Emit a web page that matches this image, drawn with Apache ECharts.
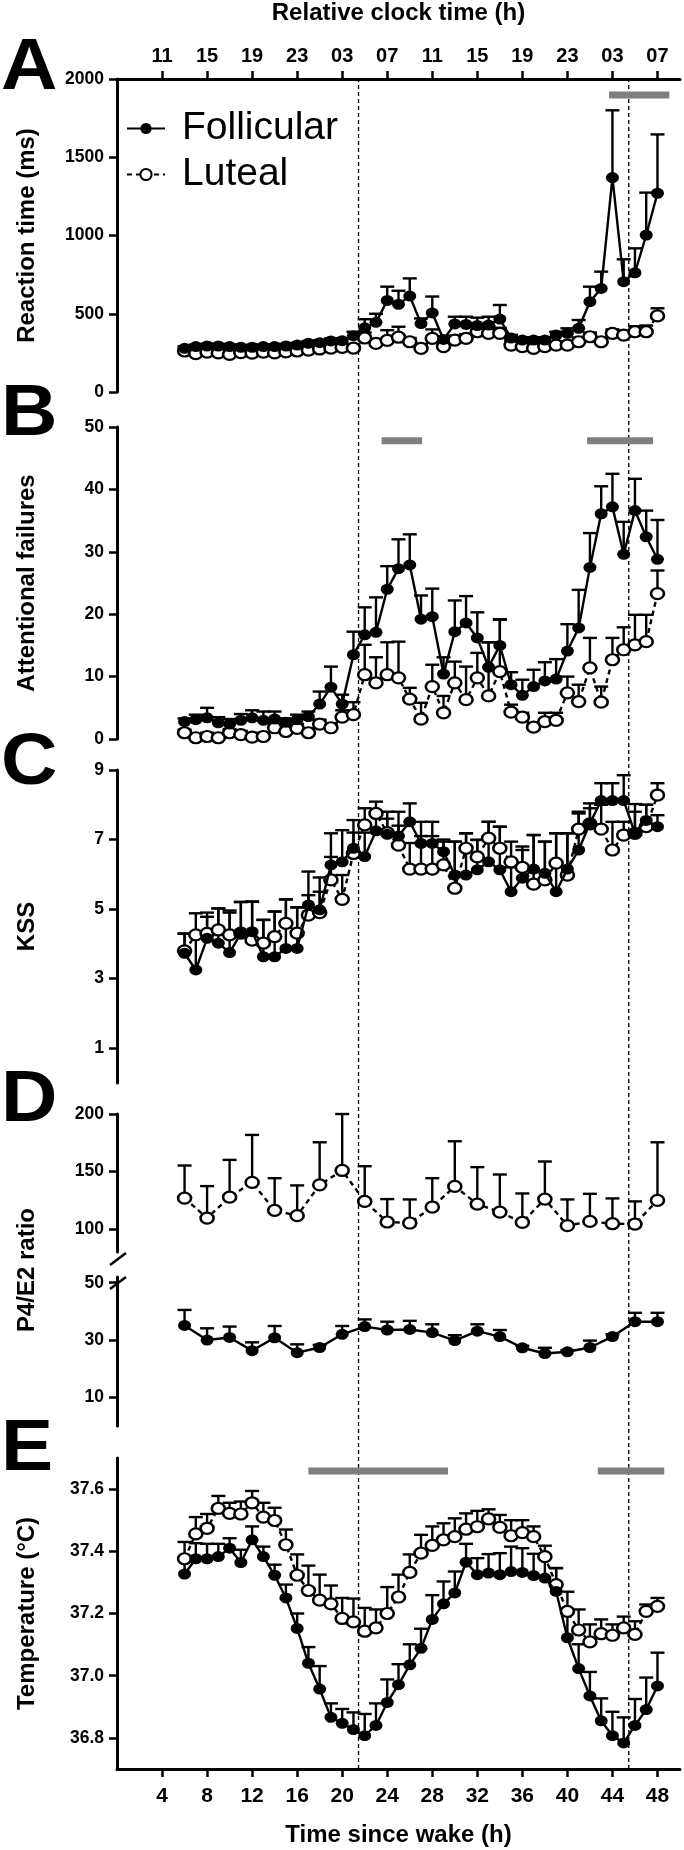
<!DOCTYPE html>
<html><head><meta charset="utf-8">
<script src="https://cdn.jsdelivr.net/npm/echarts@6/dist/echarts.min.js"></script>
<style>html,body{margin:0;padding:0;background:#fff}#c{width:684px;height:1850px}</style>
</head><body><div id="c"></div>
<script>
// ---------- data ----------
const hours = [6,7,8,9,10,11,12,13,14,15,16,17,18,19,20,21,22,23,24,25,26,27,28,29,30,31,32,33,34,35,36,37,38,39,40,41,42,43,44,45,46,47,48];
const dHours = [6,8,10,12,14,16,18,20,22,24,26,28,30,32,34,36,38,40,42,44,46,48];

const clockTicks = [4,8,12,16,20,24,28,32,36,40,44,48];
const clockLabels = ['11','15','19','23','03','07','11','15','19','23','03','07'];
const wakeTicks = [4,8,12,16,20,24,28,32,36,40,44,48];

// A: reaction time (ms)
const aFol   = [279,290,294,294,290,286,286,290,290,294,300,311,315,326,328,360,410,445,585,560,613,437,505,336,435,432,425,428,466,345,332,332,332,364,375,407,577,662,1370,705,762,1003,1270];
const aFolHi = [292,303,308,308,304,300,300,304,304,308,314,326,330,342,344,385,465,500,673,647,726,470,610,355,481,481,475,481,556,365,350,348,350,385,407,460,673,769,1800,848,918,1274,1646];
const aLut   = [262,245,255,250,240,252,248,255,250,256,262,268,275,280,285,280,345,311,330,350,321,279,343,290,332,343,385,375,375,300,290,279,290,300,300,321,353,321,375,364,385,385,486];
const aLutHi = [280,262,272,268,258,270,266,273,268,275,282,288,296,302,308,305,380,335,395,417,345,300,400,312,360,370,420,420,410,325,312,300,312,325,325,348,380,345,400,390,420,425,535];

// B: attentional failures
const bFol   = [2.8,3.1,3.4,2.6,2.4,3.0,3.4,3.0,3.2,2.7,3.1,3.6,5.6,8.3,5.6,13.5,16.7,17.1,24.0,27.3,27.9,19.2,19.6,10.4,17.2,18.6,16.2,11.5,15.0,8.7,7.0,8.4,9.3,9.6,14.1,17.8,27.5,36.1,37.2,29.6,36.6,32.4,28.8];
const bFolHi = [3.3,3.9,5.0,3.5,3.2,4.0,4.6,4.4,4.4,3.3,3.9,4.4,7.6,11.6,7.1,17.2,21.1,22.7,27.7,32.0,32.8,23.0,24.1,13.1,22.2,22.9,20.3,15.5,19.2,10.7,9.5,11.1,12.3,12.8,18.4,23.9,33.0,40.5,42.5,34.8,41.7,36.6,35.1];
const bLut   = [1.0,0.2,0.4,0.2,1.0,0.7,0.3,0.4,1.8,1.2,1.7,1.0,2.4,1.8,3.5,3.9,10.3,9.0,10.3,9.8,6.4,3.2,8.4,4.2,9.0,6.3,9.8,6.9,10.8,4.3,3.5,1.9,2.8,3.0,7.4,6.0,11.4,5.9,12.7,14.3,15.1,15.6,23.3];
const bLutHi = [1.5,0.8,1.0,0.8,1.6,1.3,0.9,1.0,2.5,1.9,2.4,1.7,3.1,2.5,4.6,5.9,15.1,13.1,15.5,15.6,8.2,5.8,11.9,6.9,12.4,11.6,13.8,15.5,19.1,5.5,4.2,2.5,4.2,4.2,10.0,8.7,16.2,8.4,16.2,17.9,19.9,19.9,27.0];

// C: KSS
const cFol   = [3.73,3.25,4.16,4.02,3.75,4.30,4.35,3.63,3.63,3.87,3.87,5.12,4.98,6.27,6.36,6.75,6.51,7.25,7.15,7.10,7.51,6.89,6.89,6.65,5.98,5.98,6.13,6.36,6.13,5.50,5.89,6.15,6.03,5.50,6.15,6.70,7.47,8.12,8.12,8.12,7.18,7.55,7.37];
const cFolHi = [4.29,4.25,4.78,5.02,4.96,5.21,5.21,4.69,4.93,5.28,5.05,6.08,5.91,7.18,7.27,7.56,7.20,7.75,7.60,7.80,8.04,7.51,7.51,7.00,6.94,7.18,6.99,7.51,7.37,6.20,6.70,7.13,6.94,7.18,7.18,7.75,8.04,8.62,8.62,8.85,8.02,8.00,7.70];
const cLut   = [3.80,4.26,4.30,4.40,4.26,4.31,4.11,4.02,4.21,4.59,4.31,4.83,4.90,5.84,5.28,6.60,7.42,7.75,7.20,6.84,6.15,6.15,6.15,6.27,5.60,6.75,6.50,7.04,6.75,6.36,6.20,5.72,5.84,6.32,5.98,7.30,7.45,7.30,6.70,7.13,7.18,7.37,8.28];
const cLutHi = [4.30,4.88,4.90,5.02,4.90,5.20,5.22,4.69,4.93,5.28,5.05,5.40,5.50,6.50,5.98,7.20,7.90,8.09,7.80,7.40,6.90,7.10,7.10,6.94,6.94,7.18,6.99,7.51,7.37,6.94,6.80,7.13,6.94,7.18,7.18,7.80,7.90,8.00,7.51,7.51,7.80,8.00,8.62];

// D: P4/E2 ratio (2-hourly)
const dLut   = [126.9,109.5,127.7,140.5,116.2,111.6,138.4,150.9,124.0,106.1,105.2,119.1,137.0,121.7,114.7,105.8,126.0,102.9,106.6,104.6,104.3,124.9];
const dLutHi = [155.2,137.3,160.1,181.8,144.2,137.9,175.4,200.0,154.6,126.0,125.7,144.2,176.3,153.8,147.4,130.9,158.7,125.7,130.6,126.6,124.0,175.4];
const dFol   = [35.1,30.0,30.9,26.3,30.8,25.6,27.4,32.0,34.7,33.5,33.7,32.6,29.8,33.1,31.2,27.3,25.3,25.9,27.4,31.2,36.4,36.4];
const dFolHi = [40.5,34.1,34.7,29.2,34.9,28.5,28.3,34.9,37.2,36.4,36.7,35.5,31.7,35.5,33.5,28.0,27.3,26.5,29.8,32.0,39.5,39.5];

// E: temperature (°C)
const eFol   = [37.327,37.376,37.376,37.383,37.41,37.364,37.437,37.383,37.323,37.25,37.152,37.04,36.957,36.866,36.847,36.827,36.807,36.84,36.914,36.971,37.035,37.088,37.181,37.231,37.266,37.365,37.325,37.33,37.325,37.335,37.332,37.322,37.314,37.271,37.122,37.023,36.935,36.855,36.807,36.784,36.84,36.891,36.967];
const eFolHi = [37.38,37.426,37.424,37.424,37.442,37.405,37.48,37.415,37.357,37.293,37.2,37.092,37.031,36.911,36.893,36.882,36.877,36.911,36.988,37.037,37.101,37.151,37.259,37.303,37.335,37.424,37.378,37.391,37.394,37.415,37.41,37.392,37.383,37.346,37.204,37.101,37.012,36.927,36.884,36.866,36.925,36.994,37.074];
const eLut   = [37.376,37.456,37.474,37.538,37.522,37.52,37.556,37.51,37.499,37.421,37.323,37.274,37.243,37.231,37.184,37.173,37.143,37.154,37.2,37.253,37.332,37.394,37.419,37.437,37.447,37.471,37.479,37.504,37.477,37.45,37.46,37.447,37.383,37.293,37.207,37.147,37.109,37.135,37.13,37.154,37.133,37.207,37.223];
const eLutHi = [37.43,37.51,37.52,37.578,37.556,37.56,37.594,37.556,37.54,37.47,37.39,37.354,37.325,37.29,37.25,37.248,37.218,37.213,37.285,37.325,37.39,37.453,37.48,37.49,37.506,37.522,37.53,37.535,37.517,37.5,37.5,37.48,37.418,37.346,37.27,37.213,37.165,37.181,37.165,37.19,37.175,37.229,37.25];

// significance bars [start h, end h, y level]
const sigA = [[43.7, 49.05, 1898]];
const sigB = [[23.5, 27.1, 47.8], [41.75, 47.6, 47.8]];
const sigE = [[17.0, 29.4, 37.658], [42.7, 48.6, 37.658]];

// vertical dashed reference lines (h since wake)
const vLines = [21.45, 45.45];

// ---------- helpers ----------
const FONT = 'Liberation Sans';
const pts = (xs, ys) => xs.map((x, i) => [x, ys[i]]);
const tri = (xs, ys, hi) => xs.map((x, i) => [x, ys[i], hi[i]]);

function errRender(params, api) {
  const p0 = api.coord([api.value(0), api.value(1)]);
  const p1 = api.coord([api.value(0), api.value(2)]);
  const c = 7;
  const st = { stroke: '#000', lineWidth: 2.4 };
  return { type: 'group', children: [
    { type: 'line', shape: { x1: p0[0], y1: p0[1], x2: p1[0], y2: p1[1] }, style: st },
    { type: 'line', shape: { x1: p1[0] - c, y1: p1[1], x2: p1[0] + c, y2: p1[1] }, style: st }
  ]};
}
function sigRender(params, api) {
  const s = api.coord([api.value(0), api.value(2)]);
  const e = api.coord([api.value(1), api.value(2)]);
  return { type: 'rect', shape: { x: s[0], y: s[1] - 3.5, width: e[0] - s[0], height: 7 }, style: { fill: '#7f7f7f' } };
}
function vRender(params, api) {
  const p0 = api.coord([api.value(0), 0]);
  const p1 = api.coord([api.value(0), 1]);
  return { type: 'line', shape: { x1: p0[0], y1: p0[1], x2: p1[0], y2: p1[1] },
    style: { stroke: '#000', lineWidth: 1.3, lineDash: [4, 3] } };
}

const L = 117, R = 4;
const grids = [
  { left: L, right: R, top: 79, height: 313 },   // 0 A
  { left: L, right: R, top: 427, height: 312 },  // 1 B
  { left: L, right: R, top: 770, height: 313 },  // 2 C
  { left: L, right: R, top: 1114, height: 138 }, // 3 D upper
  { left: L, right: R, top: 1277, height: 149 }, // 4 D lower
  { left: L, right: R, top: 1458, height: 311 }, // 5 E
  { left: L, right: R, top: 79, height: 1690 },  // 6 overlay
  { left: L, right: R, top: 1114, height: 312 }  // 7 D name
];

const axLine = { show: true, onZero: false, lineStyle: { color: '#000', width: 3 } };
const tickStyle = { show: true, length: 8, lineStyle: { color: '#000', width: 2.5 } };
const yLab = { color: '#000', fontFamily: FONT, fontWeight: 'bold', fontSize: 17.5, margin: 13, formatter: v => String(v) };
const nameStyle = { color: '#000', fontFamily: FONT, fontWeight: 'bold', fontSize: 24 };

const xAxes = grids.map((g, i) => ({ gridIndex: i, type: 'value', min: 0, max: 50, show: false, splitLine: { show: false } }));
xAxes[0] = {
  gridIndex: 0, type: 'value', min: 0, max: 50, position: 'top',
  axisLine: axLine, axisTick: Object.assign({ customValues: clockTicks }, tickStyle),
  axisLabel: { customValues: clockTicks, color: '#000', fontFamily: FONT, fontWeight: 'bold', fontSize: 20, margin: 13,
    formatter: v => clockLabels[clockTicks.indexOf(v)] },
  splitLine: { show: false },
  name: 'Relative clock time (h)', nameLocation: 'middle', nameGap: 54, nameTextStyle: nameStyle
};
xAxes[5] = {
  gridIndex: 5, type: 'value', min: 0, max: 50, position: 'bottom',
  axisLine: axLine, axisTick: Object.assign({ customValues: wakeTicks }, tickStyle),
  axisLabel: { customValues: wakeTicks, color: '#000', fontFamily: FONT, fontWeight: 'bold', fontSize: 21, margin: 17 },
  splitLine: { show: false },
  name: 'Time since wake (h)', nameLocation: 'middle', nameGap: 54, nameTextStyle: nameStyle
};

function yAx(gi, o) {
  return Object.assign({ gridIndex: gi, type: 'value', axisLine: axLine, axisTick: tickStyle,
    axisLabel: yLab, splitLine: { show: false }, nameLocation: 'middle', nameGap: 78, nameTextStyle: nameStyle }, o);
}
const yAxes = [
  yAx(0, { min: 0, max: 2000, interval: 500, name: 'Reaction time (ms)' }),
  yAx(1, { min: 0, max: 50, interval: 10, name: 'Attentional failures' }),
  yAx(2, { min: 0, max: 9, axisTick: Object.assign({ customValues: [1,3,5,7,9] }, tickStyle),
           axisLabel: Object.assign({}, yLab, { customValues: [1,3,5,7,9] }), name: 'KSS' }),
  yAx(3, { min: 80, max: 200, axisTick: Object.assign({ customValues: [100,150,200] }, tickStyle),
           axisLabel: Object.assign({}, yLab, { customValues: [100,150,200] }) }),
  yAx(4, { min: 0, max: 52, axisTick: Object.assign({ customValues: [10,30,50] }, tickStyle),
           axisLabel: Object.assign({}, yLab, { customValues: [10,30,50] }) }),
  yAx(5, { min: 36.7, max: 37.7, axisTick: Object.assign({ customValues: [36.8,37.0,37.2,37.4,37.6] }, tickStyle),
           axisLabel: Object.assign({}, yLab, { customValues: [36.8,37.0,37.2,37.4,37.6], formatter: v => v.toFixed(1) }),
           name: 'Temperature (°C)' }),
  { gridIndex: 6, type: 'value', min: 0, max: 1, show: false },
  { gridIndex: 7, type: 'value', min: 0, max: 1, axisLine: { show: false }, axisTick: { show: false },
    axisLabel: { show: false }, splitLine: { show: false },
    name: 'P4/E2 ratio', nameLocation: 'middle', nameGap: 78, nameTextStyle: nameStyle }
];

const folStyle = { symbol: 'circle', symbolSize: [13, 11], itemStyle: { color: '#000' },
  lineStyle: { color: '#000', width: 2.4 } };
const lutStyle = { symbol: 'circle', symbolSize: [13, 11], itemStyle: { color: '#fff', borderColor: '#000', borderWidth: 2.4 },
  lineStyle: { color: '#000', width: 2.4, type: [5, 4] } };

const series = [];
function addPanel(gi, xs, fol, folHi, lut, lutHi, folGrid, lutGrid) {
  const fg = folGrid !== undefined ? folGrid : gi;
  const lg = lutGrid !== undefined ? lutGrid : gi;
  series.push({ type: 'custom', name: 'Luteal SEM', xAxisIndex: lg, yAxisIndex: lg, renderItem: errRender,
    encode: { x: 0, y: [1, 2] }, data: tri(xs, lut, lutHi), z: 1, silent: true });
  series.push({ type: 'custom', name: 'Follicular SEM', xAxisIndex: fg, yAxisIndex: fg, renderItem: errRender,
    encode: { x: 0, y: [1, 2] }, data: tri(xs, fol, folHi), z: 1, silent: true });
  series.push(Object.assign({ type: 'line', name: 'Luteal', xAxisIndex: lg, yAxisIndex: lg, data: pts(xs, lut), z: 3 }, lutStyle));
  series.push(Object.assign({ type: 'line', name: 'Follicular', xAxisIndex: fg, yAxisIndex: fg, data: pts(xs, fol), z: 4 }, folStyle));
}
addPanel(0, hours, aFol, aFolHi, aLut, aLutHi);
addPanel(1, hours, bFol, bFolHi, bLut, bLutHi);
addPanel(2, hours, cFol, cFolHi, cLut, cLutHi);
addPanel(3, dHours, dFol, dFolHi, dLut, dLutHi, 4, 3);
addPanel(5, hours, eFol, eFolHi, eLut, eLutHi);

[[0, sigA], [1, sigB], [5, sigE]].forEach(([gi, d]) => {
  series.push({ type: 'custom', name: 'sig', xAxisIndex: gi, yAxisIndex: gi, renderItem: sigRender,
    encode: { x: [0, 1], y: 2 }, data: d, z: 2, silent: true });
});
series.push({ type: 'custom', name: 'ref', xAxisIndex: 6, yAxisIndex: 6, renderItem: vRender,
  encode: { x: 0 }, data: vLines.map(v => [v]), z: 0, silent: true });

const letter = (t, y) => ({ type: 'text', left: 1, top: y, scaleX: 1.07,
  style: { text: t, font: 'bold 73px "Liberation Sans", Arial, sans-serif', fill: '#000' } });
const brk = (y1, y2) => ({ type: 'line', shape: { x1: 110, y1: y1, x2: 126, y2: y2 }, style: { stroke: '#000', lineWidth: 2.5 } });

const option = {
  animation: false,
  backgroundColor: '#fff',
  grid: grids,
  xAxis: xAxes,
  yAxis: yAxes,
  legend: {
    orient: 'vertical', left: 126, top: 109, padding: 0, itemWidth: 38, itemHeight: 14, itemGap: 7,
    data: ['Follicular', 'Luteal'],
    textStyle: { fontFamily: 'Liberation Sans', fontSize: 39, color: '#000', padding: [0, 0, 0, 12] }
  },
  graphic: [
    letter('A', 32), letter('B', 378), letter('C', 727), letter('D', 1064), letter('E', 1413),
    brk(1265, 1253), brk(1289, 1277)
  ],
  series: series
};

const chart = echarts.init(document.getElementById('c'), null, { renderer: 'canvas' });
chart.setOption(option);
</script></body></html>
